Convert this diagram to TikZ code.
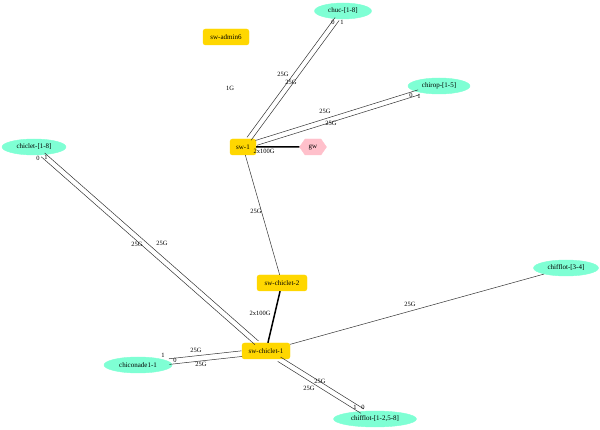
\documentclass[tikz,border=0pt]{standalone}
\usepackage{fontspec}
\setmainfont{Liberation Serif}
\usetikzlibrary{shapes.geometric,shapes.symbols}
\definecolor{aqua}{HTML}{7FFFD4}
\definecolor{goldc}{HTML}{FFD700}
\definecolor{pinkc}{HTML}{FFC0CB}
\tikzset{
  host/.style={ellipse,fill=aqua,draw=aqua,inner sep=0pt,minimum height=16pt,font=\fontsize{7}{8}\selectfont},
  sw/.style={rectangle,rounded corners=2.5pt,fill=goldc,draw=goldc,inner sep=0pt,minimum height=16pt,font=\fontsize{7}{8}\selectfont},
  gwnode/.style={signal,signal to=west and east,signal pointer angle=110,fill=pinkc,draw=pinkc,inner sep=0pt,minimum height=16pt,minimum width=27pt,font=\fontsize{7}{8}\selectfont},
  lbl/.style={inner sep=0pt,font=\fontsize{6.5}{7}\selectfont},
  link/.style={draw=black!80,line width=0.5pt},
  biglink/.style={draw=black,line width=1.5pt},
  off/.style={transform canvas={shift={#1}}}
}
\begin{document}
\begin{tikzpicture}[x=1pt,y=-1pt]
\useasboundingbox (0,0) rectangle (600,430);
% nodes
\node[host,minimum width=57pt] (chuc) at (343,11) {chuc-[1-8]};
\node[sw,minimum width=46pt] (admin) at (226,37) {sw-admin6};
\node[host,minimum width=62pt] (chirop) at (439,86) {chirop-[1-5]};
\node[sw,minimum width=26pt] (sw1) at (243,147) {sw-1};
\node[gwnode] (gw) at (313,147) {gw};
\node[host,minimum width=64pt] (chiclet) at (34,147) {chiclet-[1-8]};
\node[sw,minimum width=50pt] (swc2) at (282,283) {sw-chiclet-2};
\node[sw,minimum width=48pt] (swc1) at (266,351) {sw-chiclet-1};
\node[host,minimum width=68pt] (chiconade) at (138,365) {chiconade1-1};
\node[host,minimum width=83pt] (chifA) at (375,419) {chifflot-[1-2,5-8]};
\node[host,minimum width=65pt] (chifB) at (566,268) {chifflot-[3-4]};
% edges
\draw[link,off={(-2,-1.5)}] (sw1) -- (chuc);
\draw[link,off={(2,1.5)}] (sw1) -- (chuc);
\draw[link,off={(-0.8,-2.4)}] (sw1) -- (chirop);
\draw[link,off={(0.8,2.4)}] (sw1) -- (chirop);
\draw[biglink] (sw1) -- (gw);
\draw[link] (sw1) -- (swc2);
\draw[biglink] (swc2) -- (swc1);
\draw[link,off={(-1.7,1.9)}] (chiclet) -- (swc1);
\draw[link,off={(1.7,-1.9)}] (chiclet) -- (swc1);
\draw[link,off={(-0.3,-2.8)}] (chiconade) -- (swc1);
\draw[link,off={(0.3,2.8)}] (chiconade) -- (swc1);
\draw[link,off={(-1.4,2.2)}] (swc1) -- (chifA);
\draw[link,off={(1.4,-2.2)}] (swc1) -- (chifA);
\draw[link] (swc1) -- (chifB);
% labels
\node[lbl] (l1g) at (230,88) {1G};
\node[lbl] (lchuc1) at (283,74) {25G};
\node[lbl] (lchuc2) at (291,82) {25G};
\node[lbl] (pchuc0) at (333,22) {0};
\node[lbl] (pchuc1) at (342,22) {1};
\node[lbl] (lchirop1) at (325,111) {25G};
\node[lbl] (lchirop2) at (331,123) {25G};
\node[lbl] (pchirop0) at (411,95) {0};
\node[lbl] (pchirop1) at (419,96) {1};
\node[lbl] (lgw) at (264,151) {2x100G};
\node[lbl] (lsw2) at (256,211) {25G};
\node[lbl] (lswc) at (260,313) {2x100G};
\node[lbl] (lchiclet1) at (137,244) {25G};
\node[lbl] (lchiclet2) at (162,243) {25G};
\node[lbl] (pchiclet0) at (38,158) {0};
\node[lbl] (pchiclet1) at (46,157) {1};
\node[lbl] (lchiconade1) at (196,350) {25G};
\node[lbl] (lchiconade2) at (201,364) {25G};
\node[lbl] (pchiconade1) at (163,355) {1};
\node[lbl] (pchiconade0) at (175,360) {0};
\node[lbl] (lchifA1) at (320,381) {25G};
\node[lbl] (lchifA2) at (309,388) {25G};
\node[lbl] (pchifA1) at (355,407) {1};
\node[lbl] (pchifA0) at (363,407) {0};
\node[lbl] (lchifB) at (410,304) {25G};
\end{tikzpicture}
\end{document}
